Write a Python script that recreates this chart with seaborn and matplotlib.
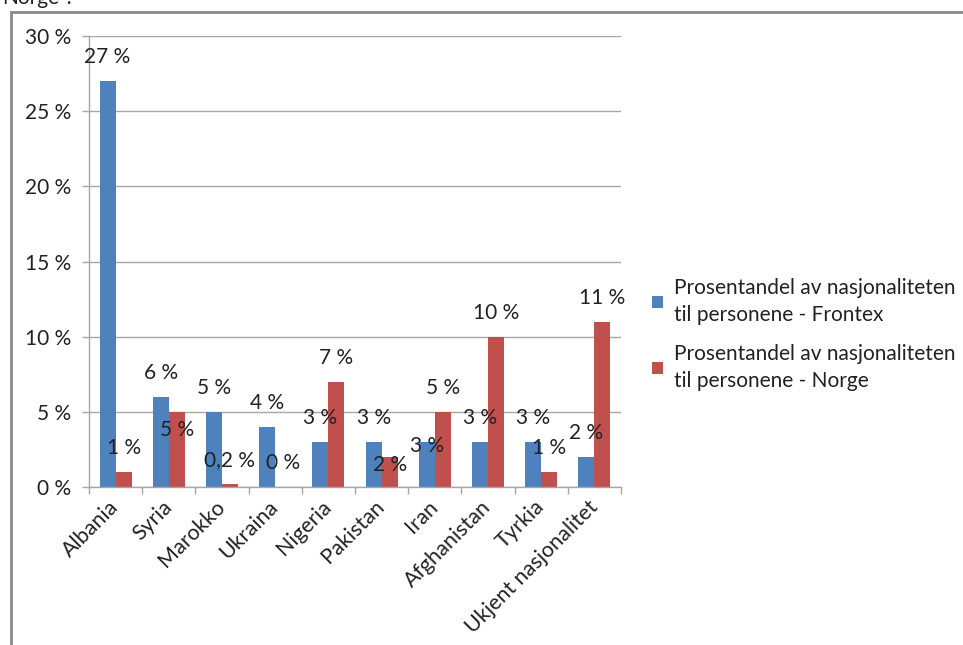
import matplotlib
matplotlib.use("Agg")
import matplotlib.pyplot as plt
import seaborn as sns
import pandas as pd
from matplotlib.patches import Rectangle
from matplotlib.ticker import FixedLocator

sns.set_theme(style="white")
plt.rcParams['font.family'] = ['Lato', 'DejaVu Sans']

# --- data ---
land = ["Albania", "Syria", "Marokko", "Ukraina", "Nigeria", "Pakistan",
        "Iran", "Afghanistan", "Tyrkia", "Ukjent nasjonalitet"]
frontex = [27, 6, 5, 4, 3, 3, 3, 3, 3, 2]
norge = [1, 5, 0.2, 0, 7, 2, 5, 10, 1, 11]
serier = ["Prosentandel av nasjonaliteten\ntil personene - Frontex",
          "Prosentandel av nasjonaliteten\ntil personene - Norge"]
y_ticks = [0, 5, 10, 15, 20, 25, 30]

# extra vertical shift (px) for labels Excel pushed aside
shift_frontex = [0, 0, 0, 0, 0, 0, 28, 0, 0, 0]
shift_norge = [0, 42, 0, 0, 0, 32, 0, 0, 0, 0]

BLUE = "#4F81BD"
RED = "#C0504D"
GRID = "#a6a6a6"
FS = 15

df = pd.DataFrame({
    "land": land * 2,
    "andel": frontex + norge,
    "serie": [serier[0]] * len(land) + [serier[1]] * len(land),
})

fig = plt.figure(figsize=(9.63, 6.45), dpi=100)
ax = fig.add_axes([89 / 963, 1 - 487 / 645, (621 - 89) / 963, (487 - 36) / 645])

sns.barplot(data=df, x="land", y="andel", hue="serie", palette=[BLUE, RED],
            saturation=1, width=0.6, gap=0, linewidth=0, ax=ax, legend=True)

ax.set_xlim(-0.5, len(land) - 0.5)
ax.set_ylim(0, 30)
ax.set_yticks(y_ticks)
ax.set_yticklabels([f"{t} %" for t in y_ticks], fontsize=FS, color="#222222")
ax.set_xlabel("")
ax.set_ylabel("")
ax.grid(axis="y", color=GRID, linewidth=1)
ax.set_axisbelow(True)
for s in ["top", "right"]:
    ax.spines[s].set_visible(False)
for s in ["left", "bottom"]:
    ax.spines[s].set_color(GRID)
    ax.spines[s].set_linewidth(1)

ax.tick_params(axis="y", left=True, length=5, width=1, color=GRID, pad=8)
ax.tick_params(axis="x", which="major", bottom=False, length=0, pad=12)
ax.xaxis.set_minor_locator(FixedLocator([i - 0.5 for i in range(len(land) + 1)]))
ax.tick_params(axis="x", which="minor", bottom=True, length=5, width=1, color=GRID)
plt.setp(ax.get_xticklabels(), rotation=45, ha="right", va="center",
         rotation_mode="anchor", fontsize=15.5, color="#222222")

# data labels
def fmt(v):
    s = f"{v:g}".replace(".", ",")
    return f"{s} %"

for cont, vals, shifts in zip(ax.containers, [frontex, norge], [shift_frontex, shift_norge]):
    for bar, v, sh in zip(cont, vals, shifts):
        cx = bar.get_x() + bar.get_width() / 2
        ax.annotate(fmt(v), (cx, v), xytext=(0, (24 - sh) * 0.72),
                    textcoords="offset points", ha="center", va="center",
                    fontsize=FS, color="#222222", annotation_clip=False)

# legend
handles, labels = ax.get_legend_handles_labels()
ax.legend_.remove()
leg = fig.legend(handles, labels, loc="upper left", bbox_to_anchor=(633 / 963, 1 - 259 / 645),
                 frameon=False, fontsize=FS, handlelength=0.55, handleheight=0.55,
                 handletextpad=0.5, labelspacing=0.9)
for t in leg.get_texts():
    t.set_linespacing(1.45)
    t.set_color("#222222")

# outer chart frame (only top and left visible in crop)
fig.patches.append(Rectangle((11 / 963, -0.2), 1.5, 1.2 - 12 / 645,
                             transform=fig.transFigure, fill=False,
                             edgecolor="#8a8a8a", linewidth=2))
fig.text(2 / 963, 1 - 4 / 645, "Norge\u201d.", fontsize=FS, va="baseline",
         ha="left", color="#222222")

fig.savefig("out.png", dpi=100)
